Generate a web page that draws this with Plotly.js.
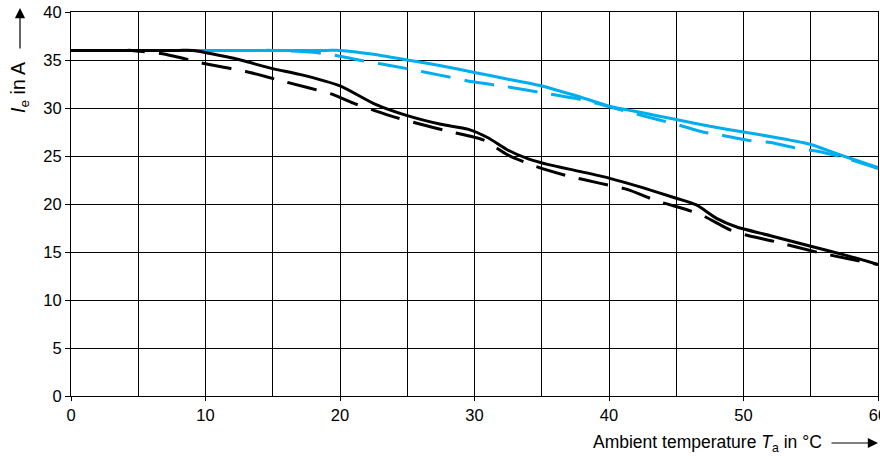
<!DOCTYPE html>
<html>
<head>
<meta charset="utf-8">
<script src="https://cdn.plot.ly/plotly-3.0.1.min.js"></script>
<style>html,body{margin:0;padding:0;background:#fff;}#chart{width:880px;height:456px;}</style>
</head>
<body>
<div id="chart"></div>
<script>
// Ambient temperature (°C) and current Ie (A)
const blueSolidX = [0, 19, 20, 22.5, 25, 27.5, 30, 32.5, 35, 37.5, 40, 42.5, 45, 47.5, 50, 52.5, 55, 57.2, 60];
const blueSolidY = [36, 36, 36, 35.6, 35.0, 34.4, 33.7, 33.0, 32.3, 31.3, 30.2, 29.5, 28.8, 28.1, 27.5, 26.9, 26.2, 25.1, 23.8];

const blueDashX = [0, 14, 15, 18, 20, 21, 23, 25, 27.5, 30, 32.5, 35, 37.5, 39.3, 41.4, 43.6, 45, 47, 48.3, 50.5, 52, 54, 55.5, 57.3, 60];
const blueDashY = [36, 36, 36, 35.8, 35.4, 35.1, 34.6, 34.1, 33.4, 32.7, 32.2, 31.6, 31.0, 30.4, 29.6, 28.8, 28.3, 27.5, 27.2, 26.6, 26.4, 25.8, 25.5, 24.9, 23.7];

const blackSolidX = [0, 8, 9, 12, 15, 17, 20, 22.6, 25, 27.5, 29.5, 31, 32.5, 34, 35.5, 37.8, 40, 42.5, 45, 46.5, 48, 49.5, 52, 55, 57.5, 60];
const blackSolidY = [36, 36, 36, 35.2, 34.1, 33.5, 32.3, 30.4, 29.2, 28.3, 27.8, 26.9, 25.6, 24.7, 24.1, 23.4, 22.7, 21.7, 20.6, 19.9, 18.5, 17.6, 16.7, 15.6, 14.7, 13.7];

const blackDashX = [0, 4, 4.5, 7, 10, 13, 16, 19.5, 21, 23.7, 26, 28.3, 30.6, 32.5, 34.6, 37, 39.2, 41.4, 43.6, 45.8, 46.9, 49, 50.1, 52.3, 55.7, 57.8, 60];
const blackDashY = [36, 36, 36, 35.6, 34.6, 33.8, 32.7, 31.4, 30.5, 29.2, 28.3, 27.5, 26.7, 25.1, 23.9, 22.9, 22.2, 21.5, 20.3, 19.4, 18.85, 17.3, 16.8, 16.1, 14.9, 14.3, 13.7];

const xTickVals = [0, 10, 20, 30, 40, 50, 60];
const xTickText = ['0', '10', '20', '30', '40', '50', '60'];
const yTickVals = [0, 5, 10, 15, 20, 25, 30, 35, 40];

const blue = 'rgb(0,174,239)';
const dash = '30px,14px';
const lw = 3;
const sm = 0.6;

const traces = [
  {x: blueSolidX, y: blueSolidY, mode: 'lines', line: {color: blue, width: lw, shape: 'spline', smoothing: sm}},
  {x: blueDashX, y: blueDashY, mode: 'lines', line: {color: blue, width: lw, dash: dash, shape: 'spline', smoothing: sm}},
  {x: blackSolidX, y: blackSolidY, mode: 'lines', line: {color: '#000', width: lw, shape: 'spline', smoothing: sm}},
  {x: blackDashX, y: blackDashY, mode: 'lines', line: {color: '#000', width: lw, dash: dash, shape: 'spline', smoothing: sm}}
];

const tickFont = {family: 'Liberation Sans, Arial, sans-serif', size: 16.5, color: '#000'};
const xTitleFont = {family: 'Liberation Sans, Arial, sans-serif', size: 17.5, color: '#000'};
const yTitleFont = {family: 'Liberation Sans, Arial, sans-serif', size: 19.5, color: '#000'};

const layout = {
  width: 880, height: 456,
  margin: {l: 71, r: 2, t: 12, b: 60},
  paper_bgcolor: '#fff', plot_bgcolor: '#fff',
  showlegend: false,
  font: tickFont,
  xaxis: {
    range: [0, 60], tickvals: xTickVals, ticktext: xTickText,
    ticks: 'outside', ticklen: 4, tickcolor: '#000', tickwidth: 1,
    ticklabeloverflow: 'allow',
    showgrid: true, gridcolor: '#000', gridwidth: 1,
    minor: {dtick: 5, showgrid: true, gridcolor: '#000', gridwidth: 1},
    showline: true, linecolor: '#000', linewidth: 1, mirror: true,
    zeroline: false, tickfont: tickFont, fixedrange: true
  },
  yaxis: {
    range: [0, 40], tickvals: yTickVals,
    ticks: 'outside', ticklen: 5, tickcolor: '#000', tickwidth: 1,
    showgrid: true, gridcolor: '#000', gridwidth: 1,
    showline: true, linecolor: '#000', linewidth: 1, mirror: true,
    zeroline: false, tickfont: tickFont, fixedrange: true
  },
  annotations: [
    {xref: 'paper', yref: 'paper', x: -0.0632, y: 0.805, text: '<i>I</i><sub>e</sub> in A',
     textangle: -90, showarrow: false, xanchor: 'center', yanchor: 'middle', font: yTitleFont},
    {xref: 'paper', yref: 'paper', x: -0.0632, y: 1.0104, ax: 0, ay: 42, axref: 'pixel', ayref: 'pixel',
     text: '', showarrow: true, arrowhead: 2, arrowsize: 1.7, arrowwidth: 1.2, arrowcolor: '#000'},
    {xref: 'paper', yref: 'paper', x: 0.933, y: -0.1224, text: 'Ambient temperature <i>T</i><sub>a</sub> in °C',
     showarrow: false, xanchor: 'right', yanchor: 'middle', font: xTitleFont},
    {xref: 'paper', yref: 'paper', x: 1.0, y: -0.1224, ax: -48, ay: 0, axref: 'pixel', ayref: 'pixel',
     text: '', showarrow: true, arrowhead: 2, arrowsize: 1.7, arrowwidth: 1.2, arrowcolor: '#000'}
  ]
};

Plotly.newPlot('chart', traces, layout, {staticPlot: true, displayModeBar: false});
</script>
</body>
</html>
